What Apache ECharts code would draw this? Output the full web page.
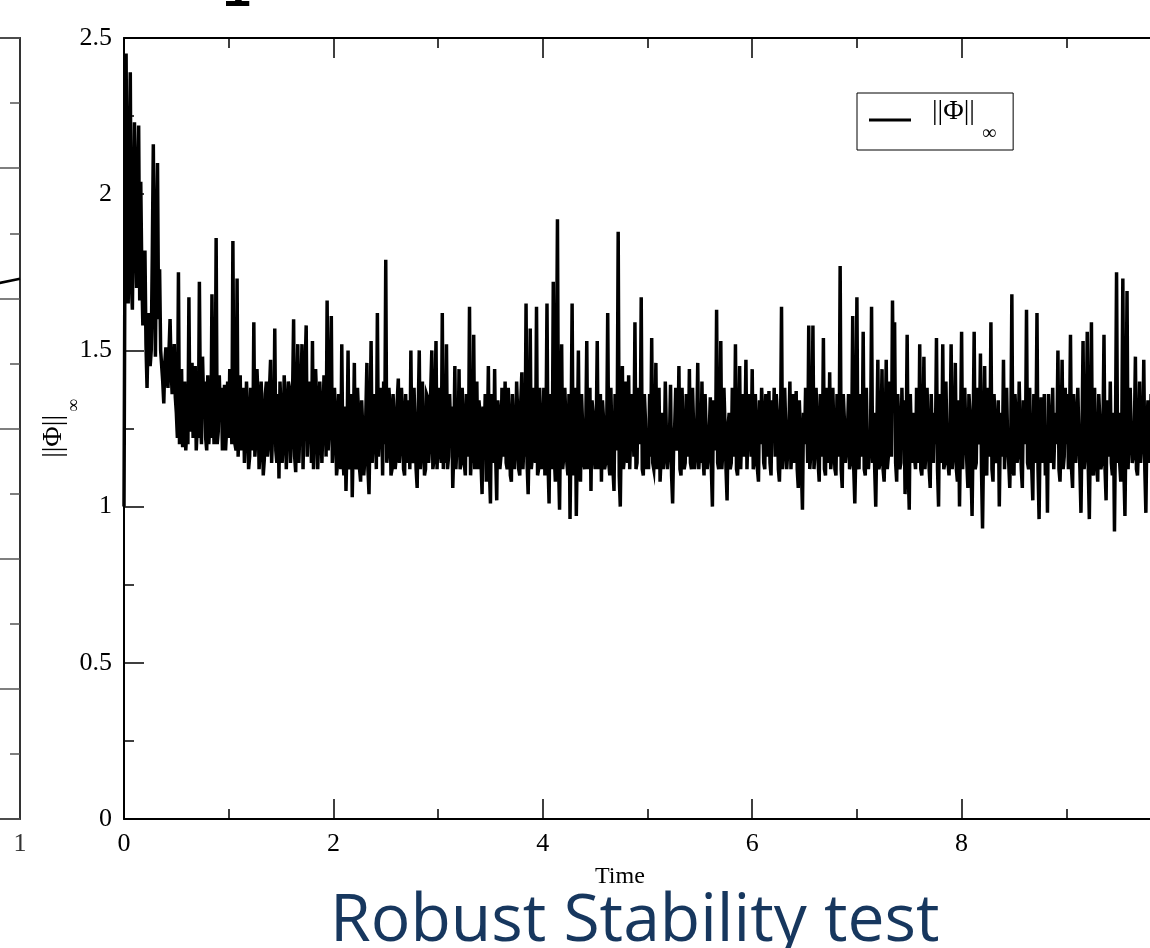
<!DOCTYPE html>
<html><head><meta charset="utf-8">
<script src="https://cdn.jsdelivr.net/npm/echarts@6/dist/echarts.min.js"></script>
<style>html,body{margin:0;padding:0;background:#fff}#c{width:1150px;height:948px}</style>
</head><body><div id="c"></div>
<script>
// ---- data ----
const timeStep = 0.01;           // sampling step of the simulation (Time units)
const phiInf = [
 1.00,1.90,2.45,1.80,1.65,2.10,2.39,1.72,1.63,1.95,2.23,1.88,1.70,2.05,2.22,1.66,2.04,1.75,1.58,1.70,1.82,1.52,1.38,1.55,1.62,1.45,1.50,1.80,2.16,1.70,1.48,1.85,2.10,1.60,1.76,1.50,1.45,1.40,1.33,1.46,1.51,1.42,1.38,1.50,1.60,1.44,1.36,1.40,1.52,1.35,
 1.30,1.22,1.75,1.20,1.28,1.44,1.19,1.30,1.40,1.18,1.25,1.20,1.67,1.24,1.30,1.46,1.22,1.30,1.45,1.18,1.26,1.22,1.72,1.30,1.20,1.48,1.34,1.40,1.22,1.18,1.42,1.20,1.28,1.22,1.68,1.34,1.20,1.26,1.86,1.20,1.24,1.42,1.30,1.38,1.18,1.24,1.39,1.18,1.25,1.40,
 1.22,1.44,1.36,1.20,1.85,1.26,1.20,1.18,1.73,1.16,1.28,1.42,1.18,1.30,1.38,1.14,1.24,1.40,1.30,1.12,1.16,1.38,1.34,1.18,1.59,1.16,1.22,1.44,1.35,1.12,1.18,1.40,1.30,1.10,1.15,1.36,1.40,1.16,1.20,1.38,1.47,1.14,1.25,1.20,1.57,1.18,1.14,1.36,1.09,1.40,
 1.30,1.14,1.20,1.42,1.33,1.12,1.24,1.40,1.38,1.14,1.22,1.36,1.60,1.16,1.11,1.34,1.52,1.14,1.26,1.38,1.52,1.12,1.30,1.44,1.58,1.16,1.28,1.40,1.36,1.14,1.53,1.12,1.24,1.44,1.34,1.12,1.22,1.40,1.30,1.14,1.26,1.42,1.38,1.16,1.66,1.18,1.25,1.40,1.61,1.14,
 1.22,1.38,1.30,1.10,1.14,1.36,1.24,1.12,1.52,1.16,1.10,1.32,1.05,1.20,1.50,1.12,1.14,1.36,1.03,1.22,1.46,1.14,1.12,1.38,1.30,1.12,1.08,1.34,1.25,1.10,1.15,1.30,1.46,1.12,1.04,1.26,1.53,1.14,1.22,1.36,1.30,1.12,1.62,1.16,1.24,1.38,1.36,1.10,1.40,1.20,
 1.79,1.14,1.18,1.38,1.32,1.10,1.12,1.36,1.28,1.12,1.16,1.34,1.41,1.14,1.20,1.38,1.30,1.12,1.10,1.36,1.22,1.14,1.34,1.12,1.50,1.16,1.14,1.38,1.26,1.12,1.06,1.30,1.50,1.12,1.18,1.40,1.24,1.10,1.12,1.36,1.35,1.14,1.20,1.38,1.50,1.12,1.15,1.34,1.53,1.12,
 1.25,1.38,1.18,1.14,1.62,1.12,1.30,1.14,1.52,1.12,1.16,1.36,1.24,1.32,1.06,1.18,1.45,1.12,1.20,1.16,1.44,1.12,1.14,1.38,1.28,1.14,1.10,1.36,1.22,1.16,1.64,1.10,1.18,1.14,1.55,1.12,1.26,1.40,1.12,1.34,1.30,1.14,1.04,1.32,1.20,1.36,1.08,1.20,1.45,1.12,
 1.01,1.36,1.24,1.14,1.44,1.16,1.02,1.34,1.30,1.12,1.16,1.38,1.22,1.16,1.40,1.14,1.12,1.38,1.28,1.10,1.08,1.36,1.24,1.12,1.18,1.40,1.30,1.12,1.10,1.34,1.43,1.12,1.20,1.16,1.65,1.14,1.04,1.22,1.57,1.12,1.16,1.38,1.30,1.14,1.64,1.10,1.12,1.38,1.24,1.12,
 1.20,1.38,1.10,1.22,1.65,1.14,1.01,1.36,1.30,1.12,1.72,1.16,1.08,1.40,1.92,1.14,0.99,1.30,1.52,1.12,1.16,1.38,1.28,1.14,1.10,1.36,0.96,1.24,1.65,1.10,1.14,1.38,0.97,1.20,1.50,1.12,1.08,1.36,1.26,1.14,1.12,1.24,1.53,1.12,1.18,1.38,1.05,1.34,1.30,1.16,
 1.12,1.24,1.53,1.12,1.20,1.36,1.08,1.34,1.28,1.12,1.14,1.22,1.62,1.14,1.10,1.38,1.22,1.12,1.05,1.36,1.18,1.22,1.88,1.10,1.00,1.26,1.45,1.12,1.16,1.40,1.26,1.14,1.42,1.12,1.12,1.36,1.30,1.16,1.59,1.12,1.14,1.38,1.24,1.20,1.67,1.12,1.10,1.36,1.28,1.12,
 1.18,1.12,1.36,1.16,1.54,1.14,1.12,1.20,1.46,1.12,1.20,1.38,1.08,1.16,1.30,1.12,1.16,1.40,1.24,1.12,1.12,1.22,1.39,1.10,1.01,1.20,1.26,1.38,1.18,1.20,1.45,1.12,1.10,1.38,1.22,1.12,1.14,1.36,1.30,1.16,1.44,1.14,1.12,1.38,1.26,1.12,1.16,1.24,1.46,1.12,
 1.20,1.14,1.40,1.16,1.10,1.36,1.24,1.12,1.16,1.24,1.35,1.12,1.00,1.34,1.22,1.18,1.63,1.14,1.12,1.22,1.53,1.12,1.18,1.38,1.26,1.12,1.02,1.26,1.30,1.12,1.14,1.38,1.20,1.16,1.52,1.12,1.10,1.20,1.45,1.12,1.24,1.36,1.16,1.22,1.47,1.12,1.12,1.36,1.28,1.16,
 1.44,1.12,1.14,1.36,1.26,1.12,1.08,1.34,1.20,1.38,1.30,1.14,1.12,1.36,1.24,1.16,1.37,1.14,1.10,1.34,1.22,1.38,1.16,1.36,1.30,1.12,1.08,1.22,1.64,1.12,1.18,1.38,1.26,1.12,1.12,1.24,1.40,1.12,1.20,1.36,1.14,1.20,1.37,1.12,1.06,1.34,1.24,1.12,0.99,1.30,
 1.20,1.38,1.30,1.14,1.58,1.12,1.12,1.22,1.58,1.12,1.18,1.38,1.26,1.14,1.08,1.36,1.22,1.16,1.54,1.12,1.10,1.38,1.26,1.14,1.43,1.12,1.16,1.38,1.24,1.12,1.10,1.36,1.30,1.16,1.77,1.12,1.06,1.36,1.28,1.14,1.18,1.24,1.36,1.12,1.14,1.20,1.61,1.12,1.01,1.18,
 1.67,1.14,1.12,1.36,1.24,1.16,1.56,1.12,1.10,1.38,1.20,1.12,1.18,1.20,1.64,1.14,1.30,1.12,1.00,1.22,1.47,1.12,1.14,1.24,1.44,1.12,1.08,1.22,1.47,1.12,1.16,1.40,1.22,1.16,1.66,1.30,1.59,1.14,1.08,1.36,1.26,1.12,1.14,1.38,1.20,1.34,1.04,1.20,1.55,1.12,
 0.99,1.36,1.22,1.14,1.30,1.16,1.12,1.38,1.26,1.14,1.52,1.12,1.10,1.20,1.48,1.12,1.18,1.38,1.24,1.12,1.06,1.36,1.20,1.14,1.30,1.20,1.54,1.12,1.00,1.36,1.28,1.14,1.52,1.12,1.14,1.40,1.22,1.14,1.10,1.24,1.52,1.12,1.16,1.22,1.46,1.12,1.08,1.34,1.00,1.24,
 1.56,1.12,1.12,1.38,1.24,1.14,1.06,1.36,1.30,1.12,0.97,1.24,1.56,1.12,1.14,1.38,1.20,1.22,1.49,1.12,0.93,1.20,1.45,1.12,1.10,1.38,1.22,1.16,1.59,1.12,1.08,1.36,1.26,1.14,1.16,1.34,1.00,1.24,1.30,1.16,1.47,1.12,1.12,1.38,1.20,1.14,1.06,1.22,1.68,1.12,
 1.10,1.36,1.28,1.14,1.18,1.40,1.24,1.12,1.06,1.34,1.30,1.20,1.63,1.14,1.12,1.38,1.20,1.12,1.02,1.36,1.14,1.22,1.62,1.12,0.96,1.24,1.35,1.14,1.20,1.36,1.10,1.26,0.98,1.36,1.26,1.14,1.18,1.38,1.12,1.24,1.30,1.20,1.50,1.12,1.08,1.22,1.47,1.12,1.16,1.38,
 1.20,1.36,1.12,1.22,1.55,1.12,1.06,1.36,1.26,1.14,1.14,1.38,1.22,1.12,0.98,1.24,1.53,1.12,1.16,1.20,1.56,1.12,0.96,1.24,1.59,1.12,1.10,1.38,1.20,1.14,1.08,1.36,1.28,1.12,1.14,1.24,1.55,1.12,1.02,1.34,1.30,1.16,1.40,1.14,1.10,1.30,0.92,1.26,1.75,1.14,
 1.30,1.14,1.08,1.24,1.73,1.12,0.97,1.26,1.69,1.12,1.12,1.38,1.24,1.14,1.16,1.24,1.48,1.12,1.10,1.20,1.40,1.14,1.20,1.22,1.47,1.12,0.98,1.26,1.34,1.14,1.20,1.36,1.22,1.14,1.14,1.38,1.30,1.14,1.18,1.36,1.26,1.12,1.10,1.38,1.24,1.14,1.20,1.36,1.22,1.20
];
const xAxisRange = [0, 10];
const xAxisStep = 2;
const yAxisRange = [0, 2.5];
const yAxisStep = 0.5;
const seriesName = '||Φ||∞';
const xAxisTitle = 'Time';
const slideTitle = 'Robust Stability test';
// neighbouring (cropped) panel on the left of the slide
const leftPanelX = [0.9, 1.0];
const leftPanelY = [4.10, 4.15];
const leftPanelYRange = [0, 6];
const leftPanelXRange = [0, 1];

const serif = '"Liberation Serif", "DejaVu Serif", serif';
const tickLabel = { fontFamily: serif, fontSize: 26, color: '#000' };
const axisCommon = {
  axisLine: { show: true, onZero: false, lineStyle: { color: '#000', width: 2 } },
  axisTick: { show: true, inside: true, length: 20, lineStyle: { color: '#000', width: 1.5 } },
  minorTick: { show: true, splitNumber: 2, length: 10, lineStyle: { color: '#000', width: 1.5 } },
  splitLine: { show: false }
};

const chart = echarts.init(document.getElementById('c'));
chart.setOption({
  animation: false,
  backgroundColor: '#fff',
  title: {
    text: slideTitle, left: 325, top: 884,
    textStyle: { fontFamily: '"Open Sans", sans-serif', fontSize: 66, fontWeight: 'normal', color: '#17375e' }
  },
  grid: [
    { left: 124, top: 38, width: 1047, height: 781, outerBoundsMode: 'none', containLabel: false },
    { left: -300, top: 38, width: 320, height: 781, outerBoundsMode: 'none', containLabel: false }
  ],
  xAxis: [
    Object.assign({ type: 'value', gridIndex: 0, position: 'bottom', min: xAxisRange[0], max: xAxisRange[1], interval: xAxisStep,
      axisLabel: Object.assign({ margin: 12 }, tickLabel) }, axisCommon),
    Object.assign({ type: 'value', gridIndex: 0, position: 'top', min: xAxisRange[0], max: xAxisRange[1], interval: xAxisStep,
      axisLabel: { show: false } }, axisCommon),
    { type: 'value', gridIndex: 1, position: 'bottom', min: leftPanelXRange[0], max: leftPanelXRange[1], interval: 1,
      axisLine: { onZero: false, lineStyle: { color: '#333', width: 2 } }, axisTick: { show: false }, splitLine: { show: false },
      axisLabel: Object.assign({ margin: 12, showMinLabel: false }, tickLabel, { color: '#333' }) },
    { type: 'value', gridIndex: 1, position: 'top', min: leftPanelXRange[0], max: leftPanelXRange[1],
      axisLine: { onZero: false, lineStyle: { color: '#333', width: 2 } }, axisTick: { show: false }, axisLabel: { show: false }, splitLine: { show: false } }
  ],
  yAxis: [
    Object.assign({ type: 'value', gridIndex: 0, position: 'left', min: yAxisRange[0], max: yAxisRange[1], interval: yAxisStep,
      axisLabel: Object.assign({ margin: 12 }, tickLabel),
      name: '{a|||Φ||}{b|∞}', nameLocation: 'middle', nameRotate: 90, nameGap: 41, nameMoveOverlap: false,
      nameTextStyle: { rich: {
        a: { fontFamily: serif, fontSize: 28, color: '#000' },
        b: { fontFamily: serif, fontSize: 18, color: '#000', padding: [40, 0, 0, 3] }
      } } }, axisCommon),
    Object.assign({ type: 'value', gridIndex: 0, position: 'right', min: yAxisRange[0], max: yAxisRange[1], interval: yAxisStep,
      axisLabel: { show: false } }, axisCommon),
    { type: 'value', gridIndex: 1, position: 'right', min: leftPanelYRange[0], max: leftPanelYRange[1], interval: 1,
      axisLine: { show: true, onZero: false, lineStyle: { color: '#333', width: 2 } },
      axisTick: { show: true, inside: true, length: 20, lineStyle: { color: '#555', width: 1.5 } },
      minorTick: { show: true, splitNumber: 2, length: 10, lineStyle: { color: '#555', width: 1.5 } },
      axisLabel: { show: false }, splitLine: { show: false } }
  ],
  legend: {
    data: [seriesName], left: 857, top: 93, icon: 'rect', itemWidth: 42, itemHeight: 3,
    padding: [5, 17, 6, 12], borderColor: '#000', borderWidth: 1, borderRadius: 0,
    formatter: () => '{a|||Φ||}{b|∞}',
    textStyle: { rich: {
      a: { fontFamily: serif, fontSize: 28, color: '#000', padding: [0, 0, 16, 16] },
      b: { fontFamily: serif, fontSize: 20, color: '#000', padding: [28, 0, 0, 7] }
    } }
  },
  graphic: [
    { type: 'text', left: 595, top: 865, style: { text: xAxisTitle, font: '24px ' + serif, fill: '#000' } },
    { type: 'text', x: 237, y: 18, style: { text: '1', font: 'bold 48px "Liberation Mono", monospace', fill: '#000', align: 'center', verticalAlign: 'bottom' } }
  ],
  series: [
    { name: seriesName, type: 'line', xAxisIndex: 0, yAxisIndex: 0, symbol: 'none', clip: true,
      lineStyle: { color: '#000', width: 3.5, join: 'miter' }, itemStyle: { color: '#000' },
      data: phiInf.map((v, i) => [i * timeStep, v]) },
    { name: 'left', type: 'line', xAxisIndex: 2, yAxisIndex: 2, symbol: 'none', clip: true,
      lineStyle: { color: '#000', width: 2.5 },
      data: leftPanelX.map((x, i) => [x, leftPanelY[i]]) }
  ]
});
</script></body></html>
